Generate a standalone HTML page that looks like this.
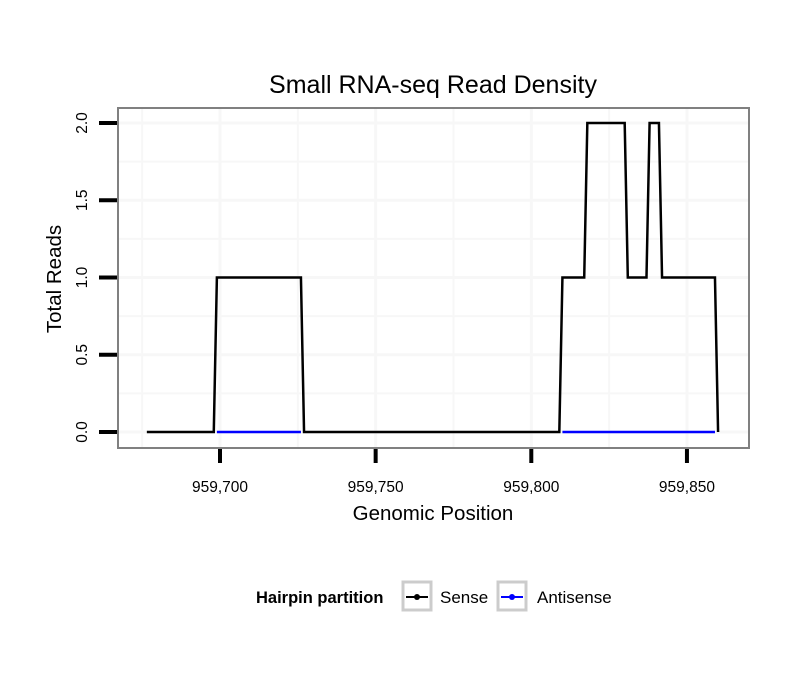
<!DOCTYPE html>
<html><head><meta charset="utf-8"><style>
body{margin:0;background:#fff;font-family:"Liberation Sans",sans-serif}
</style></head><body>
<svg id="chart" width="810" height="690" xmlns="http://www.w3.org/2000/svg" font-family="Liberation Sans, sans-serif">
<text x="433" y="93" font-size="25" text-anchor="middle">Small RNA-seq Read Density</text>
<g id="grid"></g>
<g id="series"></g>
<rect x="118" y="108" width="631" height="340" fill="none" stroke="#808080" stroke-width="2"/>
<g id="axes"></g>
<text x="433" y="520" font-size="20.5" text-anchor="middle">Genomic Position</text>
<text transform="translate(61,279) rotate(-90)" font-size="20.5" text-anchor="middle">Total Reads</text>
<g>
<text x="256" y="603" font-size="16.5" font-weight="bold">Hairpin partition</text>
<g>
<rect x="403" y="582" width="28" height="28" fill="#fff" stroke="#ccc" stroke-width="3"/>
<line x1="406" y1="597" x2="428" y2="597" stroke="#000" stroke-width="2"/><circle cx="417" cy="597" r="3" fill="#000"/>
<text x="440" y="603" font-size="17">Sense</text></g>
<g>
<rect x="498" y="582" width="28" height="28" fill="#fff" stroke="#ccc" stroke-width="3"/>
<line x1="501" y1="597" x2="523" y2="597" stroke="#00f" stroke-width="2"/><circle cx="512" cy="597" r="3" fill="#00f"/>
<text x="537" y="603" font-size="17">Antisense</text></g>
</g>
</svg>
<script>
const senseX=[959676.5,959698,959699,959726,959727,959809,959810,959817,959818,959830,959831,959837,959838,959841,959842,959859,959860];
const senseY=[0,0,1,1,0,0,1,1,2,2,1,1,2,2,1,1,0];
const antiSegStart=[959699,959810];
const antiSegEnd=[959726,959859];
const xTicks=[959700,959750,959800,959850];
const xTickLabels=["959,700","959,750","959,800","959,850"];
const yTicks=[0,0.5,1,1.5,2];
const yTickLabels=["0.0","0.5","1.0","1.5","2.0"];
const xs=v=>220+(v-959700)*3.113;
const ys=v=>432-v*154.5;
const NS="http://www.w3.org/2000/svg";
function mk(t,a,p){const e=document.createElementNS(NS,t);for(const k in a)e.setAttribute(k,a[k]);p.appendChild(e);return e;}
const grid=document.getElementById('grid'),axes=document.getElementById('axes'),ser=document.getElementById('series');
for(let v=959675;v<=959875;v+=25){const x=xs(v);if(x<119||x>748)continue;
const l=mk('line',{x1:x,x2:x,y1:109,y2:447,stroke:'#f7f7f7','stroke-width':v%50===0?3:2},grid);
}
for(let v=0;v<=2.25;v+=0.25){const y=ys(v);if(y<109)continue;
const l=mk('line',{x1:119,x2:748,y1:y,y2:y,stroke:'#f7f7f7','stroke-width':(v*2)%1===0?3:2},grid);
}
xTicks.forEach((v,i)=>{const x=xs(v);
const t=mk('line',{x1:x,x2:x,y1:449,y2:463,stroke:'#000','stroke-width':4},axes);

const tx=mk('text',{x:x,y:492,'font-size':15.5,'text-anchor':'middle'},axes);tx.textContent=xTickLabels[i];
});
yTicks.forEach((v,i)=>{const y=ys(v);
const t=mk('line',{x1:99,x2:117,y1:y,y2:y,stroke:'#000','stroke-width':4},axes);

const tx=mk('text',{transform:`translate(87,${y}) rotate(-90)`,'font-size':15.5,'text-anchor':'middle'},axes);tx.textContent=yTickLabels[i];
});
const sense=mk('polyline',{points:senseX.map((v,i)=>xs(v)+','+ys(senseY[i])).join(' '),fill:'none',stroke:'#000','stroke-width':2.5},ser);

antiSegStart.forEach((s,i)=>{const l=mk('line',{x1:xs(s),x2:xs(antiSegEnd[i]),y1:ys(0),y2:ys(0),stroke:'#00f','stroke-width':2.5},ser);
});
</script>
</body></html>
